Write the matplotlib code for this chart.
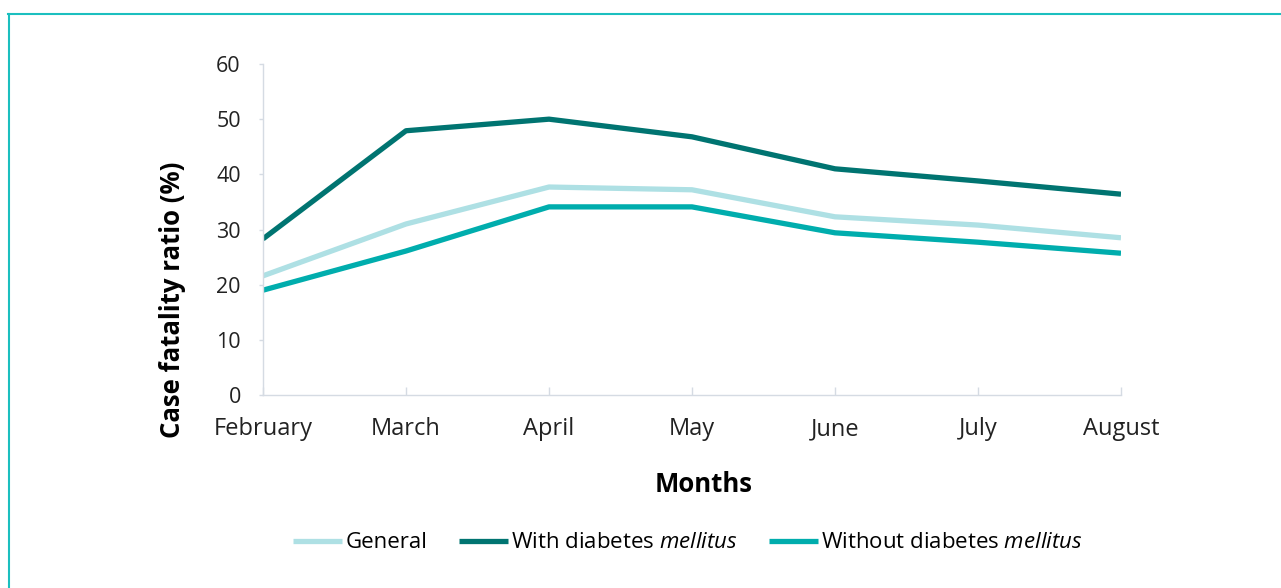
import matplotlib
matplotlib.use("Agg")
from matplotlib import pyplot as plt
from matplotlib.lines import Line2D

months = ["February", "March", "April", "May", "June", "July", "August"]
general = [21.6, 31.0, 37.7, 37.2, 32.3, 30.8, 28.5]
with_dm = [28.3, 47.9, 50.0, 46.8, 41.0, 38.8, 36.4]
without_dm = [19.0, 26.1, 34.1, 34.1, 29.4, 27.7, 25.7]
y_ticks = [0, 10, 20, 30, 40, 50, 60]

plt.rcParams["font.family"] = ["Open Sans", "DejaVu Sans"]
plt.rcParams["mathtext.fontset"] = "custom"
plt.rcParams["mathtext.it"] = "Open Sans:italic"
plt.rcParams["mathtext.rm"] = "Open Sans"

fig = plt.figure(figsize=(12.81, 5.88), dpi=100)
ax = fig.add_axes([263 / 1281, 1 - 395 / 588, (1121 - 263) / 1281, (395 - 64) / 588])

x = range(len(months))
ax.plot(x, general, color="#aee0e4", lw=3.8, label="General", solid_capstyle="butt")
ax.plot(x, with_dm, color="#007471", lw=3.8, label=r"With diabetes $\mathit{mellitus}$", solid_capstyle="butt")
ax.plot(x, without_dm, color="#00adad", lw=3.8, label=r"Without diabetes $\mathit{mellitus}$", solid_capstyle="butt")

ax.set_xlim(0, len(months) - 1)
ax.set_ylim(0, 60)
ax.set_xticks(list(x))
ax.set_xticklabels(months, fontsize=17, color="#222222")
ax.set_yticks(y_ticks)
ax.set_yticklabels([str(v) for v in y_ticks], fontsize=15.5, color="#222222")
ax.tick_params(axis="x", direction="in", length=6, width=1, color="#d5dbe3", pad=16)
ax.tick_params(axis="y", direction="out", length=3, width=1, color="#d5dbe3", pad=13)
for side in ("top", "right"):
    ax.spines[side].set_visible(False)
for side in ("left", "bottom"):
    ax.spines[side].set_color("#d5dbe3")
    ax.spines[side].set_linewidth(1)

fig.text(172 / 1281, 1 - 300 / 588, "Case fatality ratio (%)", rotation=90, fontsize=18.5,
         fontweight="bold", ha="center", va="center")
fig.text(704 / 1281, 1 - 484 / 588, "Months", fontsize=18.5, fontweight="bold", ha="center", va="center")

handles, labels = ax.get_legend_handles_labels()
fig.legend(handles, labels, loc="center", bbox_to_anchor=(688 / 1281, 1 - 543 / 588), ncol=3,
           frameon=False, fontsize=16, handlelength=2.2, handletextpad=0.15, columnspacing=1.4)

# teal frame along top and left edge
fig.add_artist(Line2D([8 / 1281, 1], [1 - 14 / 588, 1 - 14 / 588], transform=fig.transFigure,
                      color="#1bbfbf", lw=1.5))
fig.add_artist(Line2D([9 / 1281, 9 / 1281], [0, 1 - 14 / 588], transform=fig.transFigure,
                      color="#1bbfbf", lw=1.5))

fig.savefig("out.png", dpi=100)
